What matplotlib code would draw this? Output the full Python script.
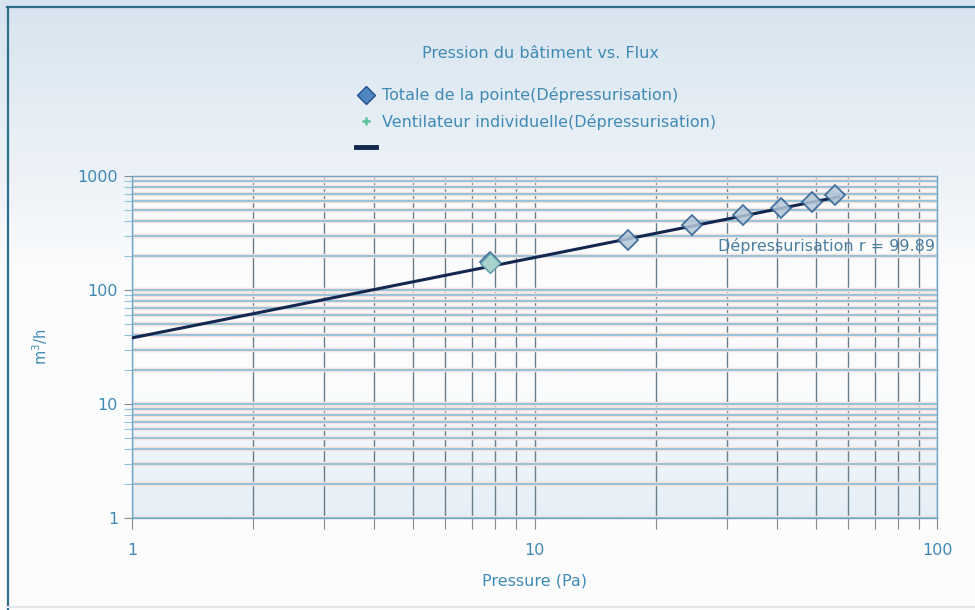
import numpy as np
import matplotlib
matplotlib.use("Agg")
import matplotlib.pyplot as plt
from matplotlib.lines import Line2D
from matplotlib.colors import LinearSegmentedColormap
from matplotlib.ticker import FixedLocator, NullFormatter

# Data
pressure = [7.75, 17.1, 24.6, 33.0, 41.0, 49.0, 55.8]
flow = [176, 274, 372, 455, 524, 593, 680]
fan_pressure = [7.75]
fan_flow = [172]
fit_pressure = [1, 57]
fit_C = 38.0
fit_n = 0.705

title = "Pression du bâtiment vs. Flux"
series_labels = ["Totale de la pointe(Dépressurisation)",
                 "Ventilateur individuelle(Dépressurisation)"]
fit_label = "Dépressurisation r = 99.89"

text_col = "#3f8ab5"
fs = 11.5

fig = plt.figure(figsize=(9.75, 6.1), dpi=100)

# figure background: light blue at the top fading to white
bg = fig.add_axes([0, 0, 1, 1], zorder=-10)
grad = np.linspace(0, 1, 256).reshape(-1, 1)
bg_cmap = LinearSegmentedColormap.from_list(
    "bg", [(0, "#d7e4ef"), (0.3, "#eef3f8"), (0.45, "#fbfcfd"), (1, "#fdfdfd")])
bg.imshow(grad, aspect="auto", cmap=bg_cmap, extent=[0, 1, 0, 1], origin="upper")
bg.set_xlim(0, 1)
bg.set_ylim(0, 1)
bg.set_axis_off()
# window frame: top and left edges only
bg.plot([7 / 975, 1], [1 - 7 / 610, 1 - 7 / 610], color="#2f6f8a", lw=1.6)
bg.plot([8 / 975, 8 / 975], [0, 1 - 7 / 610], color="#2f6f8a", lw=1.6)
bg.plot([8 / 975, 1], [3 / 610, 3 / 610], color="#e3e6ea", lw=1.5)

ax = fig.add_axes([132 / 975, 92 / 610, 805 / 975, 342 / 610])
ax.set_xscale("log")
ax.set_yscale("log")

# plot area: white, turning light blue in the lowest decade
pa_cmap = LinearSegmentedColormap.from_list(
    "pa", [(0, "#fcfcfd"), (0.6, "#fcfdfe"), (0.75, "#f1f6fa"), (1, "#e6eff7")])
ax.imshow(grad, aspect="auto", cmap=pa_cmap, extent=[0, 1, 0, 1],
          origin="upper", transform=ax.transAxes, zorder=0)
ax.set_xlim(1, 100)
ax.set_ylim(1, 1000)

# grid
xs = [m * 10 ** d for d in range(0, 2) for m in range(1, 10)] + [100]
ys = [m * 10 ** d for d in range(0, 3) for m in range(1, 10)] + [1000]
for x in xs:
    ax.axvline(x, color="#687c8a", lw=1.0, zorder=1)
for y in ys:
    ax.axhline(y, color="#f4e0dc", lw=3.2, zorder=1)
    ax.axhline(y, color="#8fc0d8", lw=1.3, zorder=1)

fit_x = np.array(fit_pressure, dtype=float)
ax.plot(fit_x, fit_C * fit_x ** fit_n, color="#14284f", lw=2.2, zorder=3)
ax.plot(pressure, flow, linestyle="none", marker="D", markersize=10,
        markerfacecolor="#b4c7d9", markeredgecolor="#2f5f8f", markeredgewidth=1.3,
        alpha=0.85, zorder=4)
ax.plot(fan_pressure, fan_flow, linestyle="none", marker="D", markersize=10,
        markerfacecolor="#a7d3cc", markeredgecolor="#5a9aa8", markeredgewidth=1.0,
        zorder=5)

ax.text(0.997, 0.795, fit_label, transform=ax.transAxes, ha="right", va="center",
        fontsize=fs, color="#4a7fa0", zorder=6)

for s in ax.spines.values():
    s.set_color("#6fa8c8")
    s.set_linewidth(1.0)

ax.xaxis.set_major_locator(FixedLocator([1, 10, 100]))
ax.xaxis.set_minor_locator(FixedLocator([x for x in xs if x not in (1, 10, 100)]))
ax.xaxis.set_minor_formatter(NullFormatter())
ax.set_xticklabels(["1", "10", "100"])
ax.yaxis.set_major_locator(FixedLocator([1, 10, 100, 1000]))
ax.yaxis.set_minor_locator(FixedLocator([y for y in ys if y not in (1, 10, 100, 1000)]))
ax.yaxis.set_minor_formatter(NullFormatter())
ax.set_yticklabels(["1", "10", "100", "1000"])
ax.tick_params(axis="both", which="both", colors="#8a8a8a", labelcolor=text_col,
               labelsize=fs, length=8, width=0.8)
ax.tick_params(axis="x", which="both", pad=10)
ax.tick_params(axis="y", which="both", pad=4, length=6)
ax.tick_params(axis="y", which="minor", colors="#93c3da")

ax.set_xlabel("Pressure (Pa)", color=text_col, fontsize=fs)
ax.xaxis.set_label_coords(0.5, -56 / 342)
ax.set_ylabel("m$^3$/h", color=text_col, fontsize=10.5)
ax.yaxis.set_label_coords(-82 / 805, 0.5)

fig.text(540 / 975, 1 - 53 / 610, title, ha="center", va="center",
         fontsize=fs, color=text_col)

# legend: frameless, left aligned under the title
handles = [
    Line2D([], [], linestyle="none", marker="D", markersize=9,
           markerfacecolor="#4f86c0", markeredgecolor="#1f4f8f"),
    Line2D([], [], linestyle="none", marker="+", markersize=6,
           markeredgecolor="#5cbf9a", markeredgewidth=1.8),
    Line2D([], [], color="#14284f", lw=3.5),
]
leg = fig.legend(handles, series_labels + [""], loc="upper left",
                 bbox_to_anchor=(350 / 975, 1 - 81 / 610), frameon=False,
                 fontsize=fs, handlelength=1.2, handletextpad=0.4,
                 labelspacing=0.65, borderaxespad=0)
for t in leg.get_texts():
    t.set_color(text_col)

fig.savefig("out.png", dpi=100)
